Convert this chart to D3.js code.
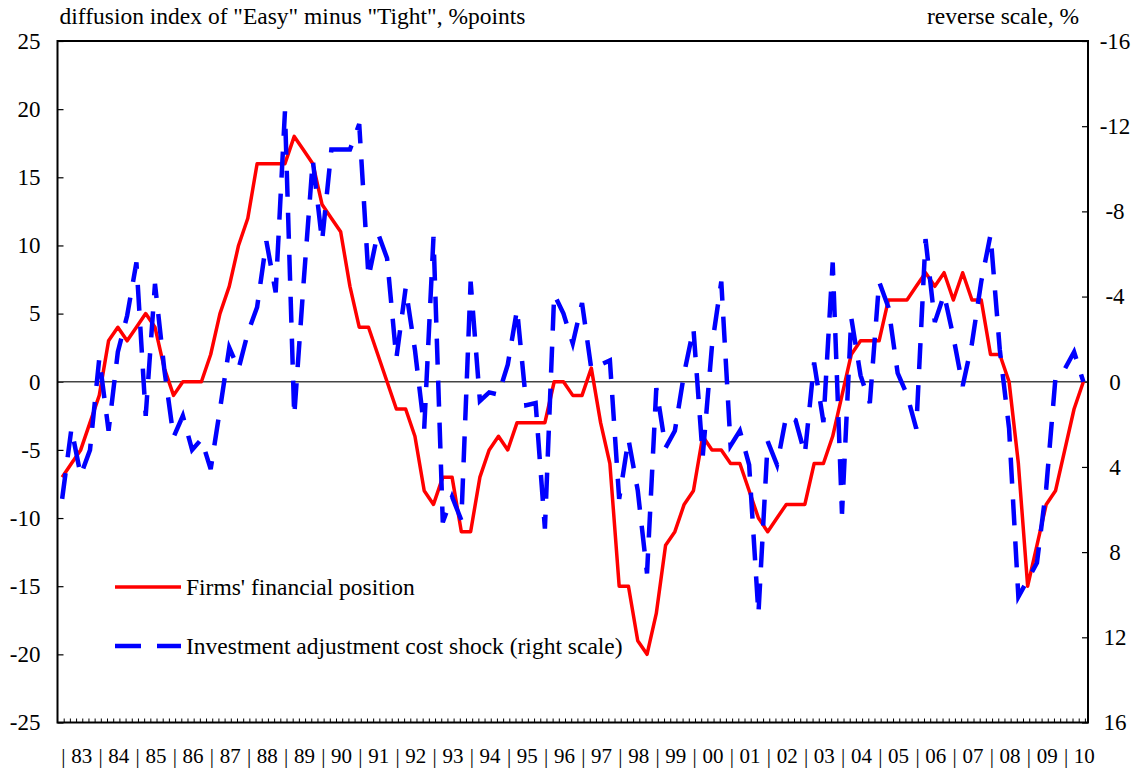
<!DOCTYPE html>
<html>
<head>
<meta charset="utf-8">
<script src="https://cdnjs.cloudflare.com/ajax/libs/d3/7.8.5/d3.min.js"></script>
<style>
	body { margin: 0; background: #fff; }
	text { font-family: "Liberation Serif", "Times New Roman", serif; fill: #000; }
</style>
</head>
<body>
<div id="chart"></div>
<script>
// quarterly values, 1983Q1 .. 2010Q3
var firmsPosition = [
	-7, -6, -5, -3, -1, 3, 4, 3, 4, 5, 4, 1, -1, 0, 0, 0,
	2, 5, 7, 10, 12, 16, 16, 16, 16, 18, 17, 16, 13, 12, 11, 7,
	4, 4, 2, 0, -2, -2, -4, -8, -9, -7, -7, -11, -11, -7, -5, -4,
	-5, -3, -3, -3, -3, 0, 0, -1, -1, 1, -3, -6, -15, -15, -19, -20,
	-17, -12, -11, -9, -8, -4, -5, -5, -6, -6, -8, -10, -11, -10, -9, -9,
	-9, -6, -6, -4, -1, 2, 3, 3, 3, 6, 6, 6, 7, 8, 7, 8,
	6, 8, 6, 6, 2, 2, 0, -6, -15, -12, -9, -8, -5, -2, 0
];

// right scale (reverse)
var investShock = [
	5.5, 2.2, 4.4, 3.2, -1.1, 2.3, -1.4, -3.1, -5.6, 1.6, -4.6, -0.6, 2.6, 1.6, 3.2, 2.7,
	4.1, 1.3, -1.6, -0.6, -2.3, -3.5, -6.6, -4.2, -12.7, 1.6, -4.6, -10.4, -6.6, -10.9, -10.9, -10.9,
	-12.1, -4.9, -7.0, -5.8, -1.1, -4.4, -1.5, 2.2, -6.8, 6.6, 5.4, 6.5, -4.7, 0.9, 0.5, 0.6,
	-0.8, -3.4, 1.1, 1.0, 6.9, -4.1, -3.2, -1.8, -3.7, -0.6, -0.8, -1.0, 5.5, 2.7, 5.1, 9.0,
	0.3, 3.1, 2.3, -0.4, -2.5, 3.5, -1.7, -4.7, 3.0, 2.3, 3.9, 10.9, 2.8, 3.9, 1.6, 1.8,
	3.4, -0.9, 1.9, -5.6, 6.2, -3.0, -0.3, 1.0, -4.7, -3.5, -0.4, 0.6, 2.2, -6.7, -2.8, -4.1,
	-2.1, 0.2, -1.8, -4.7, -6.9, -1.5, 2.2, 10.1, 9.3, 8.5, 5.0, -0.2, -0.6, -1.4, 0.0
];

var yearLabels = ["83","84","85","86","87","88","89","90","91","92","93","94","95","96",
	"97","98","99","00","01","02","03","04","05","06","07","08","09","10"];
var leftTicks = [25, 20, 15, 10, 5, 0, -5, -10, -15, -20, -25];
var rightTicks = [-16, -12, -8, -4, 0, 4, 8, 12, 16];

var palate = ['#ff0000', '#0000ff'];
var fontSize = "23px";

// margins and canvas
var margin = {left: 57.5, right: 59, top: 41, bottom: 48.5};
var width = 1147 - margin.left - margin.right,
	height = 771 - margin.top - margin.bottom;

var canvas = d3.select("#chart").append("svg")
		.attr("width", 1147)
		.attr("height", 771)
	.append("g")
		.attr("transform", "translate(" + margin.left + ", " + margin.top + ")");

// scales: x in months from Jan 1983, quarterly points in mid quarter
var x = d3.scaleLinear().domain([0, 333]).range([0, width]);
var yLeft = d3.scaleLinear().domain([-25, 25]).range([height, 0]);
var yRight = d3.scaleLinear().domain([16, -16]).range([height, 0]);

function qx(i) { return x(3 * i + 1.5); }
function plain(d) { return String(d); }

// left axis
var leftAxis = canvas.append("g")
	.call(d3.axisLeft(yLeft).tickValues(leftTicks).tickFormat(plain)
		.tickSizeInner(-6).tickSizeOuter(0).tickPadding(17));
leftAxis.select(".domain").remove();
leftAxis.selectAll("line").attr("stroke", "#000").attr("stroke-width", 1.2);
leftAxis.selectAll("text").attr("font-size", fontSize).attr("font-family", null);

// right axis
var rightAxis = canvas.append("g")
	.attr("transform", "translate(" + width + ",0)")
	.call(d3.axisRight(yRight).tickValues(rightTicks).tickFormat(plain)
		.tickSizeInner(-6).tickSizeOuter(0));
rightAxis.select(".domain").remove();
rightAxis.selectAll("line").attr("stroke", "#000").attr("stroke-width", 1.2);
rightAxis.selectAll("text")
	.attr("font-size", fontSize)
	.attr("font-family", null)
	.attr("text-anchor", "middle")
	.attr("x", 27);

// bottom ticks every two months
var monthTicks = d3.range(2, 333, 2);
var bottomAxis = canvas.append("g")
	.attr("transform", "translate(0," + height + ")")
	.call(d3.axisBottom(x).tickValues(monthTicks).tickSizeInner(-4).tickSizeOuter(0).tickFormat(""));
bottomAxis.select(".domain").remove();
bottomAxis.selectAll("line").attr("stroke", "#000").attr("stroke-width", 1);

// year labels
var years = canvas.append("g").attr("class", "years");
yearLabels.forEach(function(lab, k){
	years.append("text")
		.attr("x", x(12 * k + 1.9))
		.attr("y", height + 40)
		.attr("text-anchor", "middle")
		.attr("font-size", "21px")
		.text("|");
	years.append("text")
		.attr("x", x(12 * k + 7.8))
		.attr("y", height + 40)
		.attr("text-anchor", "middle")
		.attr("font-size", "21px")
		.text(lab);
});

// zero line
canvas.append("line")
	.attr("x1", 0).attr("x2", width)
	.attr("y1", yLeft(0)).attr("y2", yLeft(0))
	.attr("stroke", "#444")
	.attr("stroke-width", 1.3);

// series
var redLine = d3.line()
	.x(function(d, i){ return qx(i); })
	.y(function(d){ return yLeft(d); });
var blueLine = d3.line()
	.x(function(d, i){ return qx(i); })
	.y(function(d){ return yRight(d); });

canvas.append("path")
	.datum(firmsPosition)
	.attr("d", redLine)
	.attr("fill", "none")
	.attr("stroke", palate[0])
	.attr("stroke-width", 3.5)
	.attr("stroke-linejoin", "round");

canvas.append("path")
	.datum(investShock)
	.attr("d", blueLine)
	.attr("fill", "none")
	.attr("stroke", palate[1])
	.attr("stroke-width", 4.5)
	.attr("stroke-dasharray", "26,16");

// frame
canvas.append("rect")
	.attr("x", 0).attr("y", 0)
	.attr("width", width).attr("height", height)
	.attr("fill", "none")
	.attr("stroke", "#000")
	.attr("stroke-width", 2);

// axis titles
canvas.append("text")
	.attr("x", 2)
	.attr("y", -17)
	.attr("font-size", "23.5px")
	.text("diffusion index of \"Easy\" minus \"Tight\", %points");

canvas.append("text")
	.attr("x", width - 9)
	.attr("y", -17)
	.attr("text-anchor", "end")
	.attr("font-size", "23.5px")
	.text("reverse scale, %");

// legend
var legend = canvas.append("g")
	.attr("transform", "translate(" + (115 - margin.left) + "," + (587 - margin.top) + ")");
var legendItems = ["Firms' financial position", "Investment adjustment cost shock (right scale)"];

legendItems.forEach(function(item, i){
	var row = legend.append("g")
		.attr("transform", "translate(0," + (i * 59) + ")");
	row.append("line")
		.attr("x1", 0).attr("x2", 66)
		.attr("stroke", palate[i])
		.attr("stroke-width", i == 0 ? 3.5 : 4.5)
		.attr("stroke-dasharray", i == 0 ? null : "26,16");
	row.append("text")
		.attr("x", 71)
		.attr("y", 8)
		.attr("font-size", "23.5px")
		.text(item);
});
</script>
</body>
</html>
